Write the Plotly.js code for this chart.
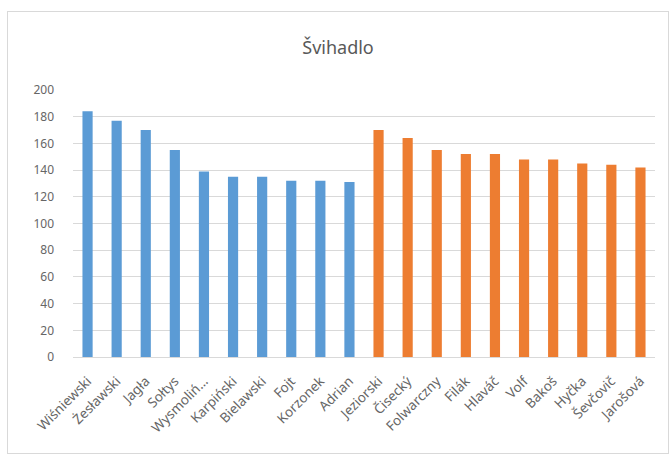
<!DOCTYPE html>
<html>
<head>
<meta charset="utf-8">
<script src="https://cdn.plot.ly/plotly-3.0.1.min.js"></script>
<style>
html,body{margin:0;padding:0;background:#fff;width:672px;height:463px;overflow:hidden;}
#chart{position:absolute;left:7px;top:11px;width:660px;height:441px;border:1px solid #d9d9d9;}
</style>
</head>
<body>
<div id="chart"></div>
<script>
const namesA = ["Wiśniewski","Żesławski","Jagła","Sołtys","Wysmoliń…","Karpiński","Bielawski","Fojt","Korzonek","Adrian"];
const valuesA = [184, 177, 170, 155, 139, 135, 135, 132, 132, 131];
const namesB = ["Jeziorski","Čisecký","Folwarczny","Filák","Hlaváč","Volf","Bakoš","Hyčka","Ševčovič","Jarošová"];
const valuesB = [170, 164, 155, 152, 152, 148, 148, 145, 144, 142];
const yTicks = [0,20,40,60,80,100,120,140,160,180,200];

const font = "'Noto Sans', 'Open Sans', sans-serif";
const traces = [
  {type:"bar", x:namesA, y:valuesA, marker:{color:"#5b9bd5"}, width:0.35, hoverinfo:"x+y"},
  {type:"bar", x:namesB, y:valuesB, marker:{color:"#ed7d31"}, width:0.35, hoverinfo:"x+y"}
];
const layout = {
  width:660, height:441,
  margin:{l:65, r:13, t:78, b:96},
  paper_bgcolor:"#fff", plot_bgcolor:"#fff",
  showlegend:false,
  barmode:"overlay",
  font:{family:font, color:"#595959", size:12},
  title:{text:"Švihadlo", font:{family:font, size:18, color:"#595959"}, x:0.5, xanchor:"center", y:0.92, yref:"container", yanchor:"middle"},
  xaxis:{type:"category", categoryorder:"array", categoryarray:namesA.concat(namesB), tickangle:-45, showgrid:false, showline:true, linecolor:"#d9d9d9", ticks:"", tickfont:{size:13.5, color:"#666666"}, ticklabelstandoff:10},
  yaxis:{range:[0,200], tickvals:yTicks, showgrid:true, gridcolor:"#d9d9d9", zeroline:false, showline:false, ticks:"", tickfont:{size:12, color:"#666666"}, ticklabelstandoff:18}
};
Plotly.newPlot("chart", traces, layout, {displayModeBar:false, staticPlot:true});
</script>
</body>
</html>
